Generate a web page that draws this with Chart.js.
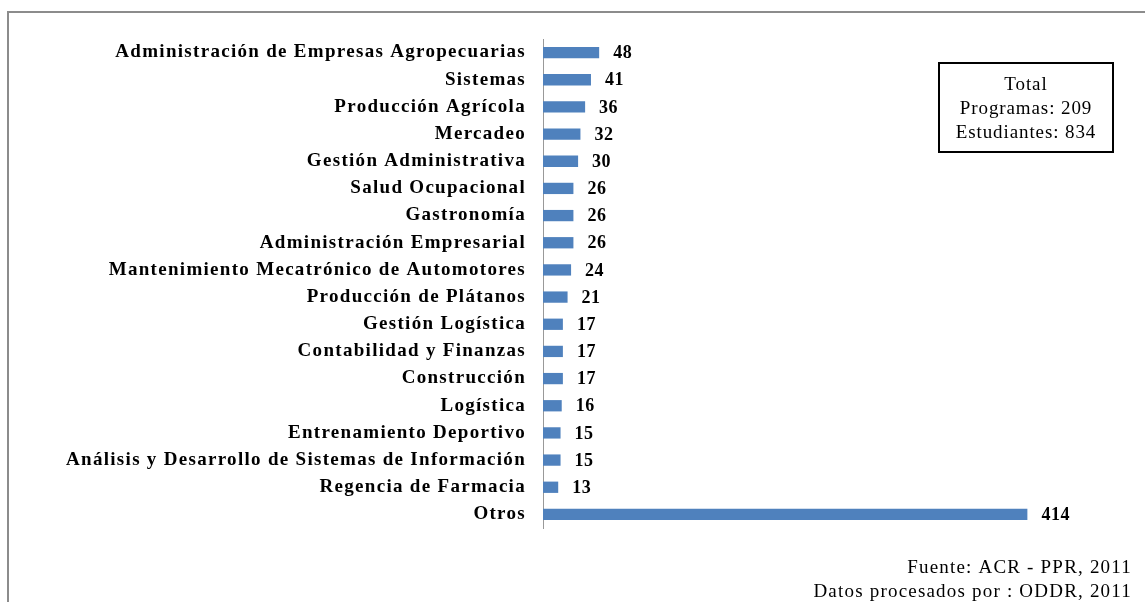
<!DOCTYPE html>
<html>
<head>
<meta charset="utf-8">
<script src="https://cdn.jsdelivr.net/npm/chart.js@4/dist/chart.umd.min.js"></script>
<style>
  html, body { margin: 0; padding: 0; background: #fff; }
  #wrap { width: 1145px; height: 602px; position: relative; }
</style>
</head>
<body>
<div id="wrap"><canvas id="programChart"></canvas></div>
<script>
// programas de formacion
const programas = [
  "Administración de Empresas Agropecuarias", "Sistemas", "Producción Agrícola", "Mercadeo",
  "Gestión Administrativa", "Salud Ocupacional", "Gastronomía", "Administración Empresarial",
  "Mantenimiento Mecatrónico de Automotores", "Producción de Plátanos", "Gestión Logística",
  "Contabilidad y Finanzas", "Construcción", "Logística", "Entrenamiento Deportivo",
  "Análisis y Desarrollo de Sistemas de Información", "Regencia de Farmacia", "Otros"
];
const estudiantes = [48, 41, 36, 32, 30, 26, 26, 26, 24, 21, 17, 17, 17, 16, 15, 15, 13, 414];
const totalLines = ["Total", "Programas: 209", "Estudiantes: 834"];
const fuenteLines = ["Fuente: ACR - PPR, 2011", "Datos procesados por : ODDR, 2011"];

const serif = "'Liberation Serif', 'DejaVu Serif', serif";

// frame, value labels, text box and source note
const extras = {
  id: "extras",
  beforeDraw(chart) {
    const c = chart.ctx;
    c.save();
    c.strokeStyle = "#8c8c8c";
    c.lineWidth = 2;
    c.beginPath();
    c.moveTo(8, 602);
    c.lineTo(8, 12);
    c.lineTo(1145, 12);
    c.stroke();
    c.restore();
    // a bit wider spacing for the category labels, like the original
    c.letterSpacing = "1.3px";
  },
  afterDatasetsDraw(chart) {
    const c = chart.ctx;
    const meta = chart.getDatasetMeta(0);
    c.save();
    c.letterSpacing = "0.5px";
    c.fillStyle = "#000";
    c.font = "bold 18px " + serif;
    c.textBaseline = "middle";
    c.textAlign = "left";
    meta.data.forEach((bar, i) => {
      c.fillText(estudiantes[i], bar.x + 14, bar.y + 1);
    });

    // cuadro de totales
    c.strokeStyle = "#000";
    c.lineWidth = 2;
    c.strokeRect(939, 63, 174, 89);
    c.letterSpacing = "0.9px";
    c.font = "19px " + serif;
    c.textAlign = "center";
    totalLines.forEach((t, i) => c.fillText(t, 1026, 85 + i * 24));

    // fuente
    c.letterSpacing = "1.2px";
    c.textAlign = "right";
    fuenteLines.forEach((t, i) => c.fillText(t, 1132, 568 + i * 24));
    c.restore();
  }
};

new Chart(document.getElementById("programChart"), {
  type: "bar",
  data: {
    labels: programas,
    datasets: [{
      data: estudiantes,
      backgroundColor: "#4f81bd",
      barPercentage: 0.8,
      categoryPercentage: 0.52
    }]
  },
  options: {
    indexAxis: "y",
    responsive: true,
    maintainAspectRatio: false,
    animation: false,
    layout: { padding: { top: 39, bottom: 74, left: 0, right: 17 } },
    scales: {
      x: { display: false, min: 0, max: 500 },
      y: {
        grid: { display: false },
        border: { display: true, color: "#999", width: 1 },
        ticks: { color: "#000", padding: 9, font: { family: serif, size: 19, weight: "bold" } },
        afterFit(scale) { scale.width = 543; }
      }
    },
    plugins: { legend: { display: false }, tooltip: { enabled: false } }
  },
  plugins: [extras]
});
</script>
</body>
</html>
